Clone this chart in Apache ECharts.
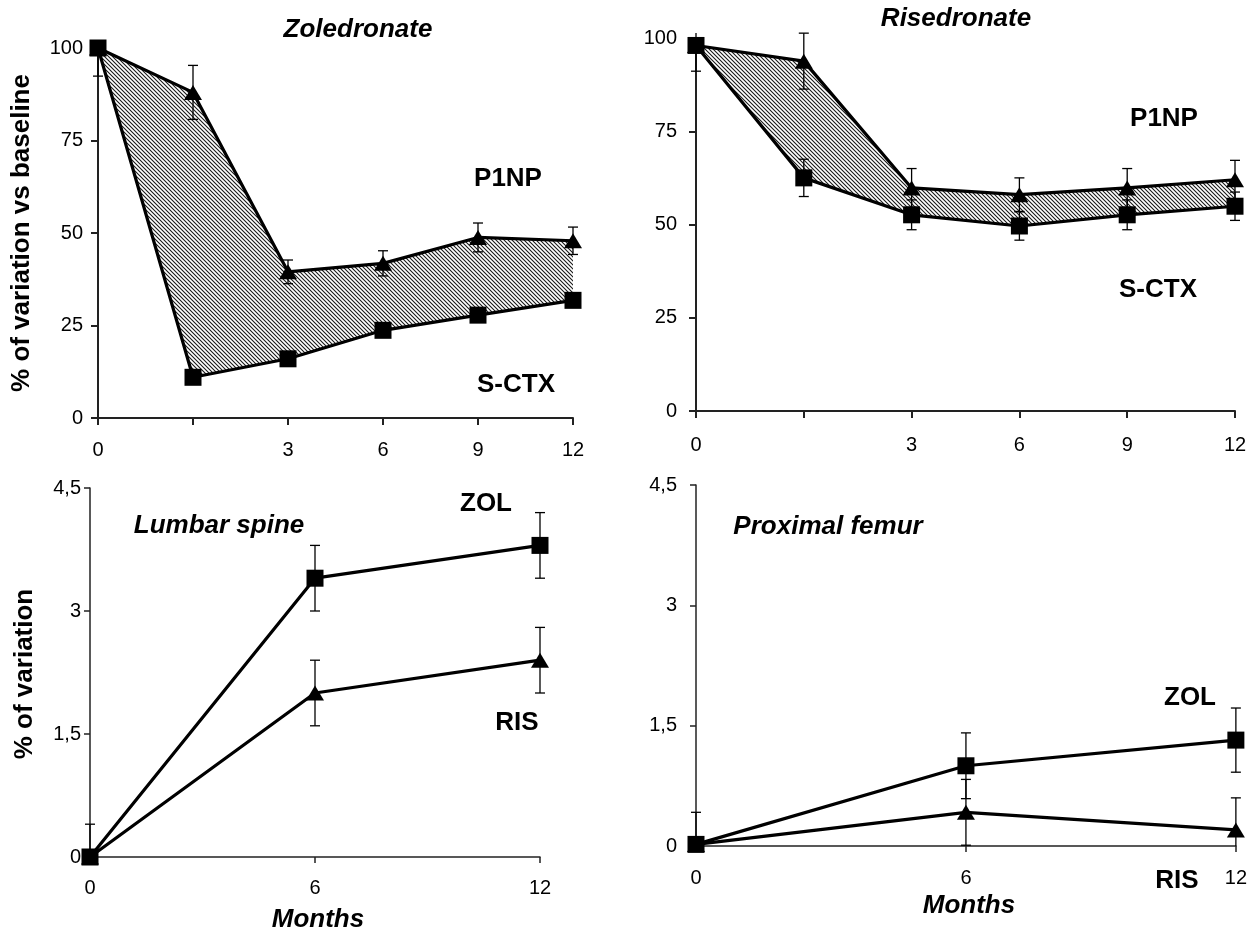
<!DOCTYPE html>
<html>
<head>
<meta charset="utf-8">
<script src="https://cdn.jsdelivr.net/npm/echarts@6/dist/echarts.min.js"></script>
<style>
  html, body { margin: 0; padding: 0; background: #fff; }
  #chart { width: 1250px; height: 933px; }
</style>
</head>
<body>
<div id="chart"></div>
<script>
// ---------- DATA ----------
const markerMonths = ['0', '', '3', '6', '9', '12'];
const markerTicks = [0, 25, 50, 75, 100];

// Zoledronate (top-left)
const zolP1NP = [100, 88, 39.5, 41.8, 48.8, 47.9];
const zolP1NPErr = [0, 7.3, 3.2, 3.4, 3.9, 3.7];
const zolSCTX = [100, 11, 16, 23.7, 27.8, 31.8];
const zolSCTXErr = [7.6, 0, 0, 0, 0, 0];

// Risedronate (top-right)
const risP1NP = [98, 93.8, 59.8, 58, 59.8, 62];
const risP1NPErr = [0, 7.5, 5.2, 4.5, 5.2, 5.2];
const risSCTX = [98, 62.5, 52.6, 49.6, 52.6, 54.9];
const risSCTXErr = [6.9, 5, 4, 3.8, 4, 3.8];

// BMD (bottom)
const bmdMonths = [0, 6, 12];
const bmdTicks = ['0', '1,5', '3', '4,5'];
const lumbarZOL = [0, 3.4, 3.8];
const lumbarZOLErr = [0.4, 0.4, 0.4];
const lumbarRIS = [0, 2.0, 2.4];
const lumbarRISErr = [0, 0.4, 0.4];
const femurZOL = [0.02, 1.0, 1.32];
const femurZOLErr = [0.4, 0.41, 0.4];
const femurRIS = [0.02, 0.42, 0.2];
const femurRISErr = [0, 0.41, 0.4];

// ---------- STYLE HELPERS ----------
const FONT = 'Liberation Sans, Arial, sans-serif';

function hatchPattern() {
  const c = document.createElement('canvas');
  c.width = 4; c.height = 4;
  const g = c.getContext('2d');
  g.fillStyle = '#ffffff';
  g.fillRect(0, 0, 4, 4);
  g.strokeStyle = '#1a1a1a';
  g.lineWidth = 1.1;
  g.beginPath();
  g.moveTo(-1, -1); g.lineTo(5, 5);
  g.moveTo(-1, 3); g.lineTo(1, 5);
  g.moveTo(3, -1); g.lineTo(5, 1);
  g.stroke();
  return c;
}
const hatch = { image: hatchPattern(), repeat: 'repeat' };

function errData(xs, ys, es) {
  const out = [];
  for (let i = 0; i < ys.length; i++) {
    if (es[i] > 0) out.push([xs[i], ys[i] - es[i], ys[i] + es[i]]);
  }
  return out;
}

function errorSeries(idx, data) {
  return {
    type: 'custom', xAxisIndex: idx, yAxisIndex: idx, z: 2, silent: true,
    encode: { x: 0, y: [1, 2] },
    data: data,
    renderItem: function (params, api) {
      const cs = params.coordSys;
      const x = api.value(0);
      const lo = api.coord([x, api.value(1)]);
      const hi = api.coord([x, api.value(2)]);
      const top = cs.y - 5, bot = cs.y + cs.height;
      const y1 = Math.min(Math.max(lo[1], top), bot);
      const y2 = Math.min(Math.max(hi[1], top), bot);
      const cx = lo[0], w = 5;
      const st = { stroke: '#000', lineWidth: 1.3 };
      const ch = [{ type: 'line', shape: { x1: cx, y1: y1, x2: cx, y2: y2 }, style: st }];
      if (lo[1] >= top && lo[1] <= bot) ch.push({ type: 'line', shape: { x1: cx - w, y1: lo[1], x2: cx + w, y2: lo[1] }, style: st });
      if (hi[1] >= top && hi[1] <= bot) ch.push({ type: 'line', shape: { x1: cx - w, y1: hi[1], x2: cx + w, y2: hi[1] }, style: st });
      return { type: 'group', children: ch };
    }
  };
}

function lineSeries(idx, data, symbol, size) {
  return {
    type: 'line', xAxisIndex: idx, yAxisIndex: idx, z: 3,
    data: data, symbol: symbol, symbolSize: size, showAllSymbol: true,
    lineStyle: { color: '#000', width: 3.2 },
    itemStyle: { color: '#000', borderWidth: 0 },
    silent: true, animation: false
  };
}

function bandSeries(idx, lower, upper, stackName) {
  const diff = upper.map((v, i) => v - lower[i]);
  return [
    { type: 'line', xAxisIndex: idx, yAxisIndex: idx, stack: stackName, data: lower,
      symbol: 'none', lineStyle: { opacity: 0 }, z: 1, silent: true },
    { type: 'line', xAxisIndex: idx, yAxisIndex: idx, stack: stackName, data: diff,
      symbol: 'none', lineStyle: { opacity: 0 }, areaStyle: { color: hatch, opacity: 1 }, z: 1, silent: true }
  ];
}

function catX(gridIdx, margin) {
  return {
    type: 'category', gridIndex: gridIdx, data: markerMonths, boundaryGap: false,
    axisLine: { lineStyle: { color: '#222', width: 2 } },
    axisTick: { show: true, length: 7, interval: 0, lineStyle: { color: '#222', width: 2 } },
    axisLabel: { color: '#000', fontSize: 20, fontFamily: FONT, margin: margin, interval: 0 },
    splitLine: { show: false }
  };
}
function pctY(gridIdx, margin) {
  return {
    type: 'value', gridIndex: gridIdx, min: markerTicks[0], max: markerTicks[markerTicks.length - 1], interval: 25,
    axisLine: { show: true, lineStyle: { color: '#222', width: 2 } },
    axisTick: { show: true, length: 7, lineStyle: { color: '#222', width: 2 } },
    axisLabel: { color: '#000', fontSize: 20, fontFamily: FONT, margin: margin },
    splitLine: { show: false }
  };
}
function monthX(gridIdx, margin) {
  return {
    type: 'value', gridIndex: gridIdx, min: 0, max: 12, interval: 6,
    axisLine: { onZero: false, lineStyle: { color: '#222', width: 1.5 } },
    axisTick: { show: true, length: 6, lineStyle: { color: '#222', width: 1.5 } },
    axisLabel: { color: '#000', fontSize: 20, fontFamily: FONT, margin: margin },
    splitLine: { show: false }
  };
}
function bmdY(gridIdx, margin) {
  return {
    type: 'value', gridIndex: gridIdx, min: 0, max: 4.5, interval: 1.5,
    axisLine: { show: true, lineStyle: { color: '#222', width: 1.5 } },
    axisTick: { show: true, length: 6, lineStyle: { color: '#222', width: 1.5 } },
    axisLabel: { color: '#000', fontSize: 20, fontFamily: FONT, margin: margin,
      formatter: function (v) { return bmdTicks[Math.round(v / 1.5)]; } },
    splitLine: { show: false }
  };
}

function txt(t, x, y, size, italic, rot) {
  return {
    type: 'text', x: x, y: y, rotation: rot || 0, z: 10, silent: true,
    style: {
      text: t, fill: '#000', align: 'center', verticalAlign: 'middle',
      font: (italic ? 'italic ' : '') + 'bold ' + size + 'px ' + FONT
    }
  };
}

const SQ = [17, 17];
const TR = [18, 15];

const option = {
  animation: false,
  backgroundColor: '#fff',
  grid: [
    { left: 98, top: 48, width: 475, height: 370 },
    { left: 696, top: 38, width: 539, height: 373 },
    { left: 90, top: 488, width: 450, height: 369 },
    { left: 696, top: 485, width: 540, height: 361 }
  ],
  xAxis: [catX(0, 22), catX(1, 24), monthX(2, 21), monthX(3, 22)],
  yAxis: [pctY(0, 15), pctY(1, 19), bmdY(2, 9), bmdY(3, 19)],
  series: [
    ...bandSeries(0, zolSCTX, zolP1NP, 'zol'),
    ...bandSeries(1, risSCTX, risP1NP, 'ris'),
    errorSeries(0, errData([0,1,2,3,4,5], zolP1NP, zolP1NPErr)),
    errorSeries(0, errData([0,1,2,3,4,5], zolSCTX, zolSCTXErr)),
    errorSeries(1, errData([0,1,2,3,4,5], risP1NP, risP1NPErr)),
    errorSeries(1, errData([0,1,2,3,4,5], risSCTX, risSCTXErr)),
    lineSeries(0, zolP1NP, 'triangle', TR),
    lineSeries(0, zolSCTX, 'rect', SQ),
    lineSeries(1, risP1NP, 'triangle', TR),
    lineSeries(1, risSCTX, 'rect', SQ),
    errorSeries(2, errData(bmdMonths, lumbarZOL, lumbarZOLErr)),
    errorSeries(2, errData(bmdMonths, lumbarRIS, lumbarRISErr)),
    errorSeries(3, errData(bmdMonths, femurZOL, femurZOLErr)),
    errorSeries(3, errData(bmdMonths, femurRIS, femurRISErr)),
    lineSeries(2, bmdMonths.map((m, i) => [m, lumbarRIS[i]]), 'triangle', TR),
    lineSeries(2, bmdMonths.map((m, i) => [m, lumbarZOL[i]]), 'rect', SQ),
    lineSeries(3, bmdMonths.map((m, i) => [m, femurRIS[i]]), 'triangle', TR),
    lineSeries(3, bmdMonths.map((m, i) => [m, femurZOL[i]]), 'rect', SQ)
  ],
  graphic: [
    txt('Zoledronate', 358, 30, 26, true),
    txt('Risedronate', 956, 19, 26, true),
    txt('P1NP', 508, 179, 26, false),
    txt('S-CTX', 516, 385, 26, false),
    txt('P1NP', 1164, 119, 26, false),
    txt('S-CTX', 1158, 290, 26, false),
    txt('Lumbar spine', 219, 526, 26, true),
    txt('ZOL', 486, 504, 26, false),
    txt('RIS', 517, 723, 26, false),
    txt('Proximal femur', 828, 527, 26, true),
    txt('ZOL', 1190, 698, 26, false),
    txt('RIS', 1177, 881, 26, false),
    txt('Months', 318, 920, 26, true),
    txt('Months', 969, 906, 26, true),
    txt('% of variation vs baseline', 22, 233, 26, false, Math.PI / 2),
    txt('% of variation', 25, 674, 26, false, Math.PI / 2)
  ]
};

const chart = echarts.init(document.getElementById('chart'), null, { renderer: 'canvas' });
chart.setOption(option);
</script>
</body>
</html>
